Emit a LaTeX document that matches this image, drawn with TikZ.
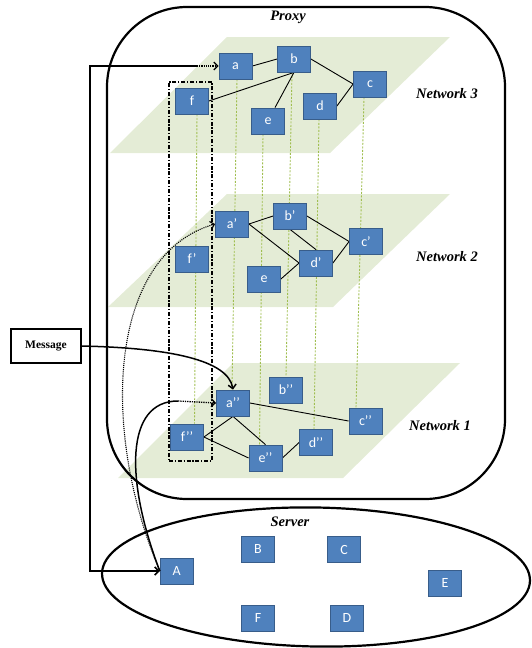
\documentclass[tikz,border=0pt]{standalone}
\usepackage{fontspec}
\setmainfont{Liberation Serif}
\newfontfamily\boxfont{Carlito}
\usetikzlibrary{shapes.geometric,arrows.meta,calc}
\definecolor{boxblue}{RGB}{79,129,189}
\definecolor{boxedge}{RGB}{56,93,138}
\definecolor{planegreen}{RGB}{228,236,214}
\definecolor{linkgreen}{RGB}{160,190,80}
\pgfdeclarelayer{planes}
\pgfdeclarelayer{links}
\pgfsetlayers{planes,links,main}
\begin{document}
\begin{tikzpicture}[x=1pt,y=-1pt,
  nodebox/.style={draw=boxedge, line width=0.8pt, fill=boxblue, text=white,
    font=\boxfont\fontsize{14}{14}\selectfont, minimum width=33pt, minimum height=26pt, inner sep=0pt},
  plane/.style={fill=planegreen, draw=none},
  vlink/.style={draw=linkgreen, line width=0.9pt, dash pattern=on 2pt off 1.5pt},
  link/.style={draw=black, line width=0.9pt},
  title/.style={font=\bfseries\itshape\fontsize{14.5}{15}\selectfont},
  tip/.style={-{Straight Barb[length=4pt,width=8pt]}},
  outline/.style={draw=black, line width=2.2pt, inner sep=0pt},
]
\useasboundingbox (0,0) rectangle (531,648);

% planes
\begin{pgfonlayer}{planes}
\fill[plane] (227,37) -- (450,37) -- (330,153) -- (110,153) -- cycle;
\fill[plane] (227,194) -- (450,194) -- (333,307) -- (108,307) -- cycle;
\fill[plane] (233,363) -- (460,363) -- (343,478) -- (118,478) -- cycle;
\end{pgfonlayer}

% nodes network 3
\node[nodebox] (a3) at (235.5,66) {a};
\node[nodebox] (b3) at (294,59) {b};
\node[nodebox] (c3) at (370,84) {c};
\node[nodebox] (d3) at (320,106) {d};
\node[nodebox] (e3) at (268,121) {e};
\node[nodebox] (f3) at (192,101) {f};
% network 2
\node[nodebox] (a2) at (232,224) {a’};
\node[nodebox] (b2) at (290,216) {b’};
\node[nodebox] (c2) at (366,241.5) {c’};
\node[nodebox] (d2) at (316,263) {d’};
\node[nodebox] (e2) at (264,279) {e};
\node[nodebox] (f2) at (192,259) {f’};
% network 1
\node[nodebox] (a1) at (233,403) {a’’};
\node[nodebox] (b1) at (286,390) {b’’};
\node[nodebox] (c1) at (365.5,421) {c’’};
\node[nodebox] (d1) at (316,442.5) {d’’};
\node[nodebox] (e1) at (265.5,458) {e’’};
\node[nodebox] (f1) at (187,437) {f’’};
% server
\node[nodebox] (A) at (176.7,571) {A};
\node[nodebox] (B) at (258,549.5) {B};
\node[nodebox] (C) at (344,549.5) {C};
\node[nodebox] (D) at (347,618) {D};
\node[nodebox] (E) at (445,583) {E};
\node[nodebox] (F) at (258,618) {F};

\begin{pgfonlayer}{links}
% vertical dashed links
\draw[vlink] ([xshift=5pt]f3.south) -- ([xshift=7.5pt]f1.north);
\draw[vlink] ([xshift=1.5pt]a3.south) -- ([xshift=-1pt]a1.north);
\draw[vlink] ([xshift=-5pt]e3.south) -- ([xshift=-6pt]e1.north);
\draw[vlink] ([xshift=-2pt]b3.south) -- (b1.north);
\draw[vlink] ([xshift=-1pt]d3.south) -- ([xshift=-2pt]d1.north);
\draw[vlink] ([xshift=-6pt]c3.south) -- ([xshift=-9.5pt]c1.north);

% edges
\draw[link] (a3.east) -- (b3.west);
\draw[link] (b3.south) -- (f3.east);
\draw[link] (b3.south) -- ([xshift=7pt]e3.north);
\draw[link] (b3.east) -- (c3.west);
\draw[link] (c3.west) -- (d3.east);

\draw[link] (a2.east) -- (b2.west);
\draw[link] (a2.east) -- (d2.west);
\draw[link] (b2.south) -- (d2.north);
\draw[link] (b2.east) -- (c2.west);
\draw[link] (c2.west) -- (d2.east);
\draw[link] (e2.east) -- (d2.west);

\draw[link] (a1.east) -- (c1.west);
\draw[link] (a1.south) -- (f1.east);
\draw[link] (a1.south) -- (e1.north);
\draw[link] (f1.east) -- (e1.west);
\draw[link] (e1.east) -- (d1.west);
\end{pgfonlayer}

% group of f nodes
\node[draw, line width=1.4pt, dash pattern=on 4pt off 1.8pt on 1.2pt off 1.8pt,
  minimum width=43pt, minimum height=379pt, inner sep=0pt] (fgroup) at (190.5,271.5) {};

% proxy and server outlines
\node[outline, rounded corners=80pt, minimum width=398pt, minimum height=492pt] (proxy) at (306,253) {};
\node[outline, ellipse, minimum width=428pt, minimum height=139pt, rotate=-1] (server) at (316,577) {};

% labels
\node[title] (proxylbl) at (288,17) {Proxy};
\node[title] (serverlbl) at (290,522) {Server};
\node[title] (net3) at (447,94) {Network 3};
\node[title] (net2) at (447,257) {Network 2};
\node[title] (net1) at (440,426) {Network 1};

% message box
\node[draw, line width=1.5pt, minimum width=70pt, minimum height=34pt, inner sep=0pt,
  font=\bfseries\fontsize{11.5}{12}\selectfont] (msg) at (46,346) {Message};

% connectors
\coordinate (Lb) at (90,571);
\coordinate (Lt) at (90,66);
\coordinate (Ld) at (197,66);
\draw[line width=1.6pt, {Straight Barb[length=4pt,width=8pt]}-] (A.west) -- (Lb) -- (Lt) -- (Ld);
\draw[densely dotted, line width=1.2pt, tip] (Ld) -- (a3.west);

\draw[densely dotted, line width=1.1pt, tip] (A.west) .. controls (100,430) and (108,255) .. (a2.west);

\coordinate (a1turn) at (178,401);
\draw[line width=1.5pt] (A.west) .. controls (125,480) and (125,401) .. (a1turn);
\draw[densely dotted, line width=1.3pt, tip] (a1turn) -- (a1.west);

\draw[line width=1.5pt, tip] (msg.east) .. controls (170,348) and (228,360) .. (a1.north);
\end{tikzpicture}
\end{document}
